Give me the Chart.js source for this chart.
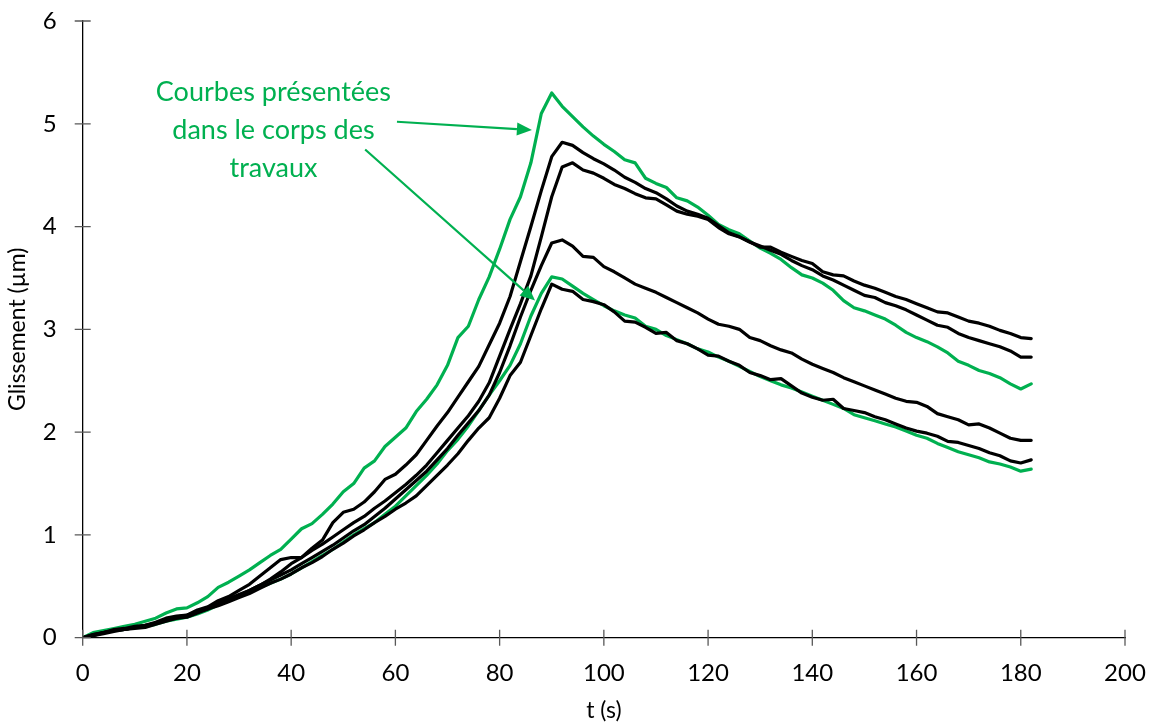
<!DOCTYPE html>
<html>
<head>
<meta charset="utf-8">
<script src="https://cdn.jsdelivr.net/npm/chart.js@4"></script>
<style>
  body { margin: 0; background: #fff; }
  canvas { display: block; }
</style>
</head>
<body>
<canvas id="slipChart" width="1153" height="724"></canvas>
<script>
// Temps de mesure (s)
const times = [0, 2, 4, 6, 8, 10, 12, 14, 16, 18, 20, 22, 24, 26, 28, 30, 32, 34, 36, 38,
    40, 42, 44, 46, 48, 50, 52, 54, 56, 58, 60, 62, 64, 66, 68, 70, 72, 74, 76, 78,
    80, 82, 84, 86, 88, 90, 92, 94, 96, 98, 100, 102, 104, 106, 108, 110, 112, 114, 116, 118,
    120, 122, 124, 126, 128, 130, 132, 134, 136, 138, 140, 142, 144, 146, 148, 150, 152, 154, 156, 158,
    160, 162, 164, 166, 168, 170, 172, 174, 176, 178, 180, 182];

// Glissement (µm) - courbes vertes (présentées dans le corps des travaux)
const greenHigh = [0.00, 0.05, 0.07, 0.09, 0.11, 0.13, 0.16, 0.19, 0.24, 0.28,
    0.29, 0.34, 0.40, 0.49, 0.54, 0.60, 0.66, 0.73, 0.80, 0.86,
    0.96, 1.06, 1.11, 1.20, 1.30, 1.42, 1.50, 1.65, 1.72, 1.86,
    1.95, 2.04, 2.20, 2.32, 2.46, 2.65, 2.92, 3.03, 3.29, 3.51,
    3.78, 4.07, 4.29, 4.62, 5.10, 5.30, 5.17, 5.07, 4.97, 4.88,
    4.80, 4.73, 4.65, 4.62, 4.47, 4.42, 4.38, 4.28, 4.25, 4.19,
    4.11, 4.02, 3.97, 3.93, 3.86, 3.79, 3.74, 3.68, 3.60, 3.53,
    3.50, 3.45, 3.38, 3.28, 3.21, 3.18, 3.14, 3.10, 3.04, 2.97,
    2.92, 2.88, 2.83, 2.77, 2.69, 2.65, 2.60, 2.57, 2.53, 2.47,
    2.42, 2.47];
const greenLow = [0.00, 0.03, 0.05, 0.07, 0.08, 0.10, 0.11, 0.13, 0.16, 0.18,
    0.20, 0.23, 0.27, 0.32, 0.36, 0.40, 0.44, 0.49, 0.53, 0.57,
    0.62, 0.68, 0.74, 0.80, 0.86, 0.93, 1.00, 1.06, 1.12, 1.20,
    1.28, 1.38, 1.48, 1.58, 1.69, 1.82, 1.93, 2.06, 2.21, 2.36,
    2.50, 2.65, 2.86, 3.13, 3.35, 3.51, 3.49, 3.42, 3.35, 3.29,
    3.23, 3.18, 3.14, 3.11, 3.03, 3.00, 2.94, 2.90, 2.86, 2.81,
    2.78, 2.73, 2.69, 2.64, 2.59, 2.54, 2.50, 2.46, 2.43, 2.39,
    2.35, 2.31, 2.27, 2.23, 2.17, 2.14, 2.11, 2.08, 2.05, 2.01,
    1.97, 1.94, 1.89, 1.85, 1.81, 1.78, 1.75, 1.71, 1.69, 1.66,
    1.62, 1.64];

// Glissement (µm) - autres essais (noir)
const black1 = [0.00, 0.03, 0.05, 0.08, 0.09, 0.11, 0.12, 0.15, 0.19, 0.21,
    0.22, 0.27, 0.30, 0.36, 0.40, 0.46, 0.52, 0.60, 0.68, 0.76,
    0.78, 0.78, 0.87, 0.95, 1.12, 1.22, 1.25, 1.32, 1.42, 1.54,
    1.59, 1.68, 1.78, 1.92, 2.06, 2.19, 2.34, 2.49, 2.64, 2.85,
    3.06, 3.32, 3.66, 4.00, 4.35, 4.68, 4.82, 4.79, 4.72, 4.66,
    4.61, 4.55, 4.48, 4.43, 4.37, 4.33, 4.27, 4.20, 4.15, 4.12,
    4.08, 4.01, 3.94, 3.90, 3.85, 3.80, 3.80, 3.75, 3.71, 3.67,
    3.64, 3.56, 3.53, 3.52, 3.47, 3.43, 3.40, 3.36, 3.32, 3.29,
    3.25, 3.21, 3.17, 3.16, 3.12, 3.08, 3.06, 3.03, 2.99, 2.96,
    2.92, 2.91];
const black2 = [0.00, 0.02, 0.05, 0.07, 0.08, 0.10, 0.11, 0.14, 0.17, 0.19,
    0.21, 0.25, 0.28, 0.33, 0.37, 0.41, 0.46, 0.51, 0.57, 0.64,
    0.72, 0.78, 0.85, 0.91, 0.98, 1.05, 1.12, 1.18, 1.26, 1.33,
    1.41, 1.49, 1.58, 1.68, 1.80, 1.92, 2.04, 2.16, 2.30, 2.48,
    2.74, 3.00, 3.25, 3.52, 3.90, 4.29, 4.58, 4.62, 4.55, 4.52,
    4.47, 4.41, 4.37, 4.32, 4.28, 4.27, 4.21, 4.15, 4.12, 4.10,
    4.07, 3.99, 3.93, 3.90, 3.85, 3.81, 3.77, 3.73, 3.67, 3.62,
    3.58, 3.52, 3.48, 3.43, 3.38, 3.33, 3.31, 3.26, 3.23, 3.19,
    3.14, 3.09, 3.04, 3.02, 2.96, 2.92, 2.89, 2.86, 2.83, 2.79,
    2.73, 2.73];
const black3 = [0.00, 0.03, 0.05, 0.07, 0.08, 0.10, 0.12, 0.14, 0.17, 0.20,
    0.22, 0.25, 0.29, 0.33, 0.38, 0.42, 0.46, 0.51, 0.56, 0.61,
    0.66, 0.72, 0.78, 0.84, 0.90, 0.97, 1.04, 1.10, 1.18, 1.26,
    1.35, 1.44, 1.53, 1.62, 1.73, 1.84, 1.97, 2.09, 2.21, 2.36,
    2.58, 2.84, 3.12, 3.38, 3.62, 3.84, 3.87, 3.81, 3.71, 3.70,
    3.61, 3.56, 3.50, 3.44, 3.40, 3.36, 3.31, 3.26, 3.21, 3.16,
    3.10, 3.05, 3.03, 3.00, 2.92, 2.89, 2.84, 2.80, 2.77, 2.71,
    2.66, 2.62, 2.58, 2.53, 2.49, 2.45, 2.41, 2.37, 2.33, 2.30,
    2.29, 2.25, 2.18, 2.15, 2.12, 2.07, 2.08, 2.04, 1.99, 1.94,
    1.92, 1.92];
const black4 = [0.00, 0.02, 0.04, 0.06, 0.08, 0.09, 0.10, 0.13, 0.16, 0.19,
    0.20, 0.24, 0.28, 0.31, 0.35, 0.39, 0.43, 0.48, 0.53, 0.57,
    0.62, 0.68, 0.73, 0.79, 0.86, 0.92, 0.99, 1.05, 1.12, 1.18,
    1.25, 1.31, 1.38, 1.48, 1.58, 1.68, 1.79, 1.92, 2.04, 2.14,
    2.33, 2.55, 2.68, 2.94, 3.20, 3.44, 3.39, 3.37, 3.29, 3.27,
    3.24, 3.17, 3.08, 3.07, 3.02, 2.96, 2.97, 2.89, 2.86, 2.81,
    2.75, 2.74, 2.69, 2.65, 2.58, 2.55, 2.51, 2.52, 2.45, 2.38,
    2.34, 2.31, 2.32, 2.23, 2.21, 2.19, 2.15, 2.12, 2.08, 2.04,
    2.01, 1.99, 1.96, 1.91, 1.90, 1.87, 1.84, 1.80, 1.77, 1.72,
    1.70, 1.73];

const xTicks = [0, 20, 40, 60, 80, 100, 120, 140, 160, 180, 200];
const yTicks = [0, 1, 2, 3, 4, 5, 6];

const GREEN = "#00b050";
const FONT = "Lato, 'Open Sans', sans-serif";

// Note text and arrows, placed in data units (t, glissement)
const noteLines = ["Courbes présentées", "dans le corps des", "travaux"];
const noteAnchor = { x: 36.6, y: 5.31 };
const arrows = [
    { from: { x: 60.3, y: 5.02 }, to: { x: 86.2, y: 4.94 } },
    { from: { x: 54.2, y: 4.75 }, to: { x: 86.8, y: 3.28 } }
];

function toPoints(values) {
    return values.map((v, i) => ({ x: times[i], y: v }));
}

function series(values, color) {
    return {
        data: toPoints(values),
        borderColor: color,
        borderWidth: 3.2,
        borderJoinStyle: "round",
        borderCapStyle: "round",
        pointRadius: 0,
        tension: 0,
        fill: false
    };
}

// Excel style tick marks crossing the axis line
const crossTicks = {
    id: "crossTicks",
    afterDraw(chart) {
        const ctx = chart.ctx;
        const xs = chart.scales.x, ys = chart.scales.y;
        ctx.save();
        ctx.strokeStyle = "#595959";
        ctx.lineWidth = 1.3;
        ctx.beginPath();
        const yAxis = ys.getPixelForValue(0);
        xTicks.forEach(v => {
            const px = xs.getPixelForValue(v);
            ctx.moveTo(px, yAxis - 8);
            ctx.lineTo(px, yAxis + 8);
        });
        const xAxis = xs.getPixelForValue(0);
        yTicks.forEach(v => {
            const py = ys.getPixelForValue(v);
            ctx.moveTo(xAxis - 8, py);
            ctx.lineTo(xAxis + 8, py);
        });
        ctx.stroke();
        ctx.restore();
    }
};

// Green note with its two arrows
const note = {
    id: "note",
    afterDatasetsDraw(chart) {
        const ctx = chart.ctx;
        const xs = chart.scales.x, ys = chart.scales.y;
        ctx.save();
        ctx.fillStyle = GREEN;
        ctx.strokeStyle = GREEN;
        ctx.font = "27px " + FONT;
        ctx.textAlign = "center";
        ctx.textBaseline = "middle";
        const cx = xs.getPixelForValue(noteAnchor.x);
        const cy = ys.getPixelForValue(noteAnchor.y);
        noteLines.forEach((line, i) => ctx.fillText(line, cx, cy + i * 38));

        arrows.forEach(a => {
            const x1 = xs.getPixelForValue(a.from.x), y1 = ys.getPixelForValue(a.from.y);
            const x2 = xs.getPixelForValue(a.to.x), y2 = ys.getPixelForValue(a.to.y);
            const ang = Math.atan2(y2 - y1, x2 - x1);
            const headLen = 15, headHalf = 6.5;
            const bx = x2 - headLen * Math.cos(ang), by = y2 - headLen * Math.sin(ang);
            ctx.lineWidth = 2.2;
            ctx.beginPath();
            ctx.moveTo(x1, y1);
            ctx.lineTo(bx, by);
            ctx.stroke();
            ctx.beginPath();
            ctx.moveTo(x2, y2);
            ctx.lineTo(bx + headHalf * Math.sin(ang), by - headHalf * Math.cos(ang));
            ctx.lineTo(bx - headHalf * Math.sin(ang), by + headHalf * Math.cos(ang));
            ctx.closePath();
            ctx.fill();
        });
        ctx.restore();
    }
};

const chart = new Chart(document.getElementById("slipChart"), {
    type: "line",
    data: {
        datasets: [
            series(black1, "#000000"),
            series(black2, "#000000"),
            series(black3, "#000000"),
            series(black4, "#000000"),
            series(greenHigh, GREEN),
            series(greenLow, GREEN)
        ]
    },
    options: {
        responsive: false,
        animation: false,
        devicePixelRatio: 1,
        layout: { padding: { top: 21, right: 28, left: 0, bottom: 0 } },
        plugins: {
            legend: { display: false },
            tooltip: { enabled: false }
        },
        scales: {
            x: {
                type: "linear",
                min: 0,
                max: 200,
                afterFit: s => { s.height = 86.3; },
                afterBuildTicks: s => { s.ticks = xTicks.map(v => ({ value: v })); },
                // tick marks are drawn by crossTicks; tickLength only offsets the labels
                grid: { display: false, drawTicks: true, tickLength: 21 },
                border: { display: true, color: "#000000", width: 1.3 },
                ticks: {
                    padding: 0,
                    color: "#000000",
                    font: { family: FONT, size: 24 }
                },
                title: {
                    display: true,
                    text: "t (s)",
                    color: "#000000",
                    padding: { top: 0, bottom: 0 },
                    font: { family: FONT, size: 23 }
                }
            },
            y: {
                min: 0,
                max: 6,
                afterFit: s => { s.width = 82.7; },
                afterBuildTicks: s => { s.ticks = yTicks.map(v => ({ value: v })); },
                grid: { display: false, drawTicks: true, tickLength: 26 },
                border: { display: true, color: "#000000", width: 1.3 },
                ticks: {
                    padding: 0,
                    color: "#000000",
                    font: { family: FONT, size: 24 }
                },
                title: {
                    display: true,
                    text: "Glissement (µm)",
                    color: "#000000",
                    padding: { top: 4, bottom: 0 },
                    font: { family: FONT, size: 23 }
                }
            }
        }
    },
    plugins: [crossTicks, note]
});
</script>
</body>
</html>
